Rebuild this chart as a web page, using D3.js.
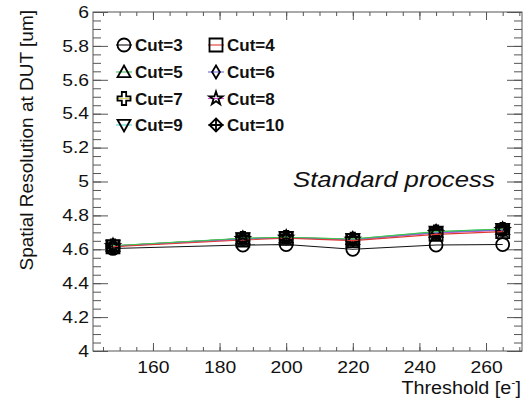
<!DOCTYPE html>
<html>
<head>
<meta charset="utf-8">
<script src="https://cdn.jsdelivr.net/npm/d3@7"></script>
<style>
  body { margin: 0; background: #fff; }
  text { font-family: "Liberation Sans", Arial, Helvetica, sans-serif; fill: #111; }
</style>
</head>
<body>
<div class="chart"></div>
<script>
// data
const thresholds = [148, 187, 200, 220, 245, 265];
const cutNames = ["Cut=3", "Cut=4", "Cut=5", "Cut=6", "Cut=7", "Cut=8", "Cut=9", "Cut=10"];
const cut3  = [4.605, 4.625, 4.628, 4.600, 4.625, 4.628];
const cut4  = [4.615, 4.655, 4.665, 4.651, 4.688, 4.704];
const cut5  = [4.621, 4.665, 4.671, 4.661, 4.704, 4.720];
const cut6  = [4.619, 4.662, 4.669, 4.658, 4.699, 4.716];
const cut7  = [4.620, 4.664, 4.670, 4.660, 4.702, 4.718];
const cut8  = [4.618, 4.660, 4.668, 4.656, 4.696, 4.713];
const cut9  = [4.620, 4.664, 4.670, 4.660, 4.703, 4.719];
const cut10 = [4.619, 4.663, 4.669, 4.658, 4.700, 4.716];
const xTicks = [160, 180, 200, 220, 240, 260];
const yTicks = [4, 4.2, 4.4, 4.6, 4.8, 5, 5.2, 5.4, 5.6, 5.8, 6];

const seriesValues = [cut3, cut4, cut5, cut6, cut7, cut8, cut9, cut10];
const lineColors = ["#111111", "#e03a34", "#3cc550", "#6a6ae0", "#e2d85a", "#d94ad9", "#4ad8d8", "#111111"];
const markerTypes = ["circle", "square", "triangle", "diamond", "cross", "star", "triangleDown", "diamondCross"];

const margin = {top: 12, left: 93, right: 2, bottom: 59};
const width = 524 - margin.left - margin.right,
      height = 410 - margin.top - margin.bottom;

const svg = d3.select(".chart")
    .append("svg")
    .attr("width", 524)
    .attr("height", 410);

const gr = svg.append("g")
    .attr("transform", "translate(" + margin.left + "," + margin.top + ")");

const xScale = d3.scaleLinear().domain([142, 270.8]).range([0, width]);
const yScale = d3.scaleLinear().domain([4, 6]).range([height, 0]);

// stretch text a bit wider, like the original
function stretch(sel, k) {
    sel.each(function() {
        const len = this.getComputedTextLength();
        d3.select(this).attr("textLength", len * k).attr("lengthAdjust", "spacingAndGlyphs");
    });
}

// marker shapes, h = half size
function markerPath(type, h) {
    if (type === "circle") return d3.symbol(d3.symbolCircle, Math.PI * h * h)();
    if (type === "square") return `M${-h},${-h}H${h}V${h}H${-h}Z`;
    if (type === "triangle") return `M0,${-h}L${h},${h * 0.8}L${-h},${h * 0.8}Z`;
    if (type === "triangleDown") return `M0,${h}L${h},${-h * 0.8}L${-h},${-h * 0.8}Z`;
    if (type === "diamond") return `M0,${-h}L${h * 0.6},0L0,${h}L${-h * 0.6},0Z`;
    if (type === "star") return d3.symbol(d3.symbolStar, h * h * 1.3)();
    if (type === "cross") {
        const a = h / 3;
        return `M${-a},${-h}H${a}V${-a}H${h}V${a}H${a}V${h}H${-a}V${a}H${-h}V${-a}H${-a}Z`;
    }
    // diamond with cross
    return `M0,${-h}L${h},0L0,${h}L${-h},0Z M0,${-h}V${h} M${-h},0H${h}`;
}

// axes, ROOT style: ticks inside the frame
const xMinor = d3.range(145, 271, 5);
const yMinor = d3.range(4, 6.001, 0.05);

gr.append("g").attr("transform", `translate(0,${height})`)
    .call(d3.axisBottom(xScale).tickValues(xMinor).tickSize(-4).tickFormat(""));
gr.append("g").attr("transform", `translate(0,${height})`)
    .call(d3.axisBottom(xScale).tickValues(xTicks).tickSize(-8).tickPadding(10))
    .attr("class", "axis x-axis");
gr.append("g")
    .call(d3.axisTop(xScale).tickValues(xMinor).tickSize(-4).tickFormat(""));
gr.append("g")
    .call(d3.axisTop(xScale).tickValues(xTicks).tickSize(-8).tickFormat(""));

gr.append("g")
    .call(d3.axisLeft(yScale).tickValues(yMinor).tickSize(-8).tickFormat(""));
gr.append("g")
    .call(d3.axisLeft(yScale).tickValues(yTicks).tickSize(-15).tickPadding(4).tickFormat(d3.format("")))
    .attr("class", "axis y-axis");
gr.append("g").attr("transform", `translate(${width},0)`)
    .call(d3.axisRight(yScale).tickValues(yMinor).tickSize(-8).tickFormat(""));
gr.append("g").attr("transform", `translate(${width},0)`)
    .call(d3.axisRight(yScale).tickValues(yTicks).tickSize(-15).tickFormat(""));

gr.selectAll(".domain").remove();
gr.selectAll(".tick line").attr("stroke", "#555").attr("stroke-width", 1);

gr.selectAll(".x-axis text")
    .attr("font-size", 16.5)
    .attr("font-family", "Liberation Sans, Arial, sans-serif")
    .attr("fill", "#111");
gr.selectAll(".y-axis text")
    .attr("font-size", 16.5)
    .attr("font-family", "Liberation Sans, Arial, sans-serif")
    .attr("fill", "#111");
stretch(gr.selectAll(".x-axis text, .y-axis text"), 1.17);

gr.append("rect")
    .attr("width", width).attr("height", height)
    .attr("fill", "none").attr("stroke", "#555").attr("stroke-width", 1);

// lines and markers, drawn last to first so Cut=3..5 sit on top
const line = d3.line()
    .x((d, i) => xScale(thresholds[i]))
    .y(d => yScale(d));

const order = d3.range(seriesValues.length).reverse();
order.forEach(k => {
    const g = gr.append("g").attr("class", "series");
    g.append("path")
        .datum(seriesValues[k])
        .attr("d", line)
        .attr("fill", "none")
        .attr("stroke", lineColors[k])
        .attr("stroke-width", 1.1);
    g.selectAll(".marker")
        .data(seriesValues[k])
        .join("path")
        .attr("class", "marker")
        .attr("transform", (d, i) => `translate(${xScale(thresholds[i])},${yScale(d)})`)
        .attr("d", markerPath(markerTypes[k], 6.5))
        .attr("fill", "none")
        .attr("stroke", "#000")
        .attr("stroke-width", 1.8);
});

// legend, two columns
const legend = svg.append("g");
const legendCols = [124, 216];
const legendRows = [45, 72, 98.5, 125];
cutNames.forEach((name, k) => {
    const cx = legendCols[k % 2], cy = legendRows[Math.floor(k / 2)];
    legend.append("line")
        .attr("x1", cx - 8).attr("x2", cx + 8)
        .attr("y1", cy).attr("y2", cy)
        .attr("stroke", lineColors[k]).attr("stroke-width", 1.1);
    legend.append("path")
        .attr("transform", `translate(${cx},${cy})`)
        .attr("d", markerPath(markerTypes[k], 6.5))
        .attr("fill", "none")
        .attr("stroke", "#000")
        .attr("stroke-width", 1.8);
    legend.append("text")
        .attr("x", cx + 11).attr("y", cy + 6)
        .attr("font-size", 17)
        .attr("font-weight", "bold")
        .text(name);
});

// annotation
const note = svg.append("text")
    .attr("x", 293).attr("y", 187)
    .attr("font-size", 22)
    .attr("font-style", "italic")
    .text("Standard process");
stretch(note, 1.17);

// axis titles
const xTitle = svg.append("text")
    .attr("x", 521).attr("y", 394)
    .attr("text-anchor", "end")
    .attr("font-size", 17.5);
xTitle.append("tspan").text("Threshold [e");
xTitle.append("tspan").attr("font-size", 11).attr("dy", -8).text("-");
xTitle.append("tspan").attr("dy", 8).text("]");
stretch(xTitle, 1.13);

svg.append("text")
    .attr("transform", "translate(33,10) rotate(-90)")
    .attr("text-anchor", "end")
    .attr("font-size", 19)
    .text("Spatial Resolution at DUT [um]");
</script>
</body>
</html>
